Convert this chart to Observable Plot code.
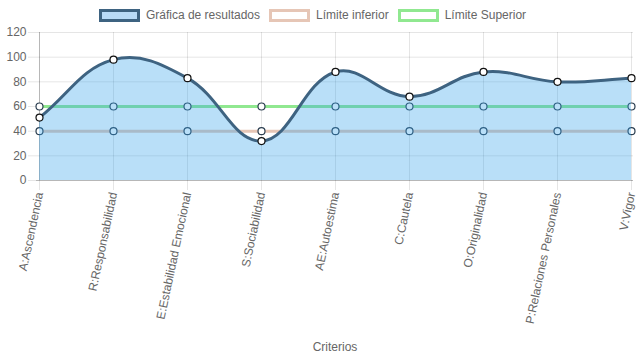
<!DOCTYPE html>
<html>
<head>
<meta charset="utf-8">
<script src="https://cdn.jsdelivr.net/npm/d3@7"></script>
<script src="https://cdn.jsdelivr.net/npm/@observablehq/plot@0.6"></script>
<style>
  html, body { margin: 0; padding: 0; background: #fff; }
  #wrap { position: relative; width: 637px; height: 359px; font-family: "Liberation Sans", Arial, Helvetica, sans-serif; }
  #legend { position: absolute; top: 8px; left: -6px; width: 637px; display: flex; justify-content: center; align-items: center; font-size: 12px; color: #666; z-index: 2; pointer-events: none; }
  .item { display: flex; align-items: center; margin: 0 4.5px; }
  .box { width: 35px; height: 7px; border-width: 3px; border-style: solid; margin-right: 6px; }
</style>
</head>
<body>
<div id="wrap">
  <div id="legend"></div>
  <div id="chart"></div>
</div>
<script>
const categories = ["A:Ascendencia", "R:Responsabilidad", "E:Estabilidad Emocional", "S:Sociabilidad", "AE:Autoestima", "C:Cautela", "O:Originalidad", "P:Relaciones Personales", "V:Vigor"];
const resultados = [51, 98, 83, 32, 88, 68, 88, 80, 83];
const limiteInferior = [40, 40, 40, 40, 40, 40, 40, 40, 40];
const limiteSuperior = [60, 60, 60, 60, 60, 60, 60, 60, 60];
const seriesNames = ["Gráfica de resultados", "Límite inferior", "Límite Superior"];
const yTicks = [0, 20, 40, 60, 80, 100, 120];
const xTitle = "Criterios";

// Chart.js-like bezier spline (tension 0.4)
function ChartjsCurve(context) { this._context = context; this._t = 0.4; }
ChartjsCurve.prototype = {
  areaStart() { this._line = 0; },
  areaEnd() { this._line = NaN; },
  lineStart() { this._pts = []; },
  point(x, y) { this._pts.push({x: +x, y: +y}); },
  lineEnd() {
    const p = this._pts, n = p.length, c = this._context, t = this._t;
    if (n) {
      const ctrl = p.map((cur, i) => {
        const prev = p[i - 1] || cur, next = p[i + 1] || cur;
        const d01 = Math.hypot(cur.x - prev.x, cur.y - prev.y);
        const d12 = Math.hypot(next.x - cur.x, next.y - cur.y);
        let s01 = d01 / (d01 + d12), s12 = d12 / (d01 + d12);
        if (isNaN(s01)) s01 = 0; if (isNaN(s12)) s12 = 0;
        const fa = t * s01, fb = t * s12;
        return {
          px: cur.x - fa * (next.x - prev.x), py: cur.y - fa * (next.y - prev.y),
          nx: cur.x + fb * (next.x - prev.x), ny: cur.y + fb * (next.y - prev.y)
        };
      });
      if (this._line) c.lineTo(p[0].x, p[0].y); else c.moveTo(p[0].x, p[0].y);
      for (let i = 1; i < n; i++) {
        c.bezierCurveTo(ctrl[i - 1].nx, ctrl[i - 1].ny, ctrl[i].px, ctrl[i].py, p[i].x, p[i].y);
      }
    }
    if (this._line || (this._line !== 0 && n === 1)) c.closePath();
    this._line = 1 - this._line;
  }
};
const chartCurve = (context) => new ChartjsCurve(context);

const res = categories.map((c, i) => ({c, v: resultados[i]}));
const inf = categories.map((c, i) => ({c, v: limiteInferior[i]}));
const sup = categories.map((c, i) => ({c, v: limiteSuperior[i]}));

const colors = {
  resLine: "#3e6381",
  resFill: "rgb(54,162,235)",
  inf: "#e6c6b6",
  sup: "#90e890"
};

// Legend
const legend = document.getElementById("legend");
const legendStyles = [
  {border: colors.resLine, bg: "#b9dbf7"},
  {border: colors.inf, bg: "#fff"},
  {border: colors.sup, bg: "#fff"}
];
seriesNames.forEach((name, i) => {
  const it = document.createElement("div");
  it.className = "item";
  const b = document.createElement("span");
  b.className = "box";
  b.style.borderColor = legendStyles[i].border;
  b.style.background = legendStyles[i].bg;
  it.appendChild(b);
  const s = document.createElement("span");
  s.textContent = name;
  it.appendChild(s);
  legend.appendChild(it);
});

const chart = Plot.plot({
  width: 637,
  height: 359,
  marginTop: 32,
  marginBottom: 179,
  marginLeft: 36,
  marginRight: 4,
  style: {fontFamily: '"Liberation Sans", Arial, Helvetica, sans-serif', fontSize: "12px", color: "#666", background: "transparent", overflow: "visible"},
  x: {type: "point", domain: categories, padding: 0, range: [36, 633]},
  y: {domain: [0, 120], range: [180, 32]},
  marks: [
    Plot.gridY(yTicks, {stroke: "#000", strokeOpacity: 0.1, strokeWidth: 1}),
    Plot.gridX(categories, {stroke: "#000", strokeOpacity: 0.1, strokeWidth: 1}),
    Plot.axisY(yTicks, {tickSize: 8, tickPadding: 2, stroke: "#000", strokeOpacity: 0.1, fill: "#666", label: null, fontSize: 12}),
    Plot.axisX(categories, {tickSize: 10, tickPadding: 2, tickRotate: -78, stroke: "#000", strokeOpacity: 0.1, fill: "#666", label: null, fontSize: 12}),
    Plot.ruleY([0], {stroke: "#000", strokeOpacity: 0.2}),
    Plot.ruleX([categories[0]], {stroke: "#000", strokeOpacity: 0.2}),
    Plot.lineY(inf, {x: "c", y: "v", stroke: colors.inf, strokeWidth: 3}),
    Plot.lineY(sup, {x: "c", y: "v", stroke: colors.sup, strokeWidth: 3}),
    Plot.dot(inf, {x: "c", y: "v", r: 3.5, fill: "#fff", stroke: "#2b3e50", strokeWidth: 1.2}),
    Plot.dot(sup, {x: "c", y: "v", r: 3.5, fill: "#fff", stroke: "#2b3e50", strokeWidth: 1.2}),
    Plot.areaY(res, {x: "c", y: "v", fill: colors.resFill, fillOpacity: 0.35, curve: chartCurve}),
    Plot.lineY(res, {x: "c", y: "v", stroke: colors.resLine, strokeWidth: 3, curve: chartCurve}),
    Plot.dot(res, {x: "c", y: "v", r: 3.5, fill: "#fff", stroke: "#111", strokeWidth: 1.2}),
    Plot.text([xTitle], {frameAnchor: "bottom", dy: 170, fill: "#666", fontSize: 12})
  ]
});
document.getElementById("chart").appendChild(chart);
</script>
</body>
</html>
